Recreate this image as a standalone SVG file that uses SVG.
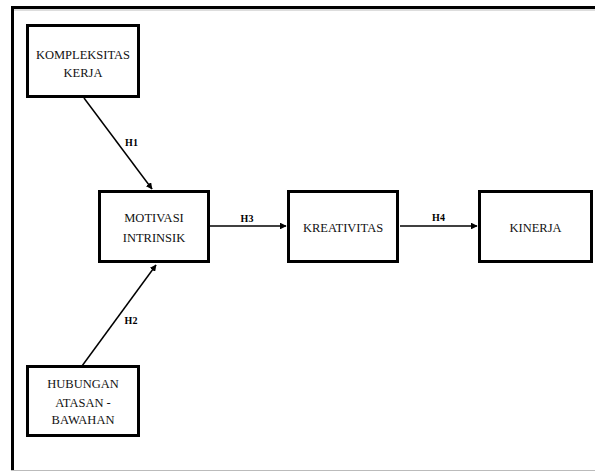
<svg xmlns="http://www.w3.org/2000/svg" width="595" height="472" viewBox="0 0 595 472">
<style>
.box{fill:#fff;stroke:#000;stroke-width:3}
.t{font-family:"Liberation Serif","Times New Roman",serif;font-size:12.5px;fill:#111;text-anchor:middle}
.lab{font-family:"Liberation Serif","Times New Roman",serif;font-size:10px;font-weight:bold;fill:#000;text-anchor:middle}
.c{stroke:#000;stroke-width:1.5;fill:none;marker-end:url(#ah)}
</style>
<defs>
<marker id="ah" viewBox="0 0 10 10" refX="9" refY="5" markerWidth="4.5" markerHeight="4.5" orient="auto" markerUnits="strokeWidth">
<path d="M0,0 L10,5 L0,10 z" fill="#000"/>
</marker>
</defs>
<rect width="595" height="472" fill="#fff"/>
<g id="frame">
<line x1="11" y1="10" x2="595" y2="10" stroke="#bbb" stroke-width="1"/>
<line x1="11" y1="7.5" x2="595" y2="7.5" stroke="#000" stroke-width="3"/>
<line x1="12.5" y1="6" x2="12.5" y2="471" stroke="#000" stroke-width="3"/>
<line x1="11" y1="470.5" x2="595" y2="470.5" stroke="#bbb" stroke-width="1"/>
</g>
<g id="connectors">
<line class="c" x1="84" y1="98" x2="152" y2="189"/>
<line class="c" x1="82" y1="366" x2="156" y2="265"/>
<line class="c" x1="210" y1="226" x2="286" y2="226"/>
<line class="c" x1="400" y1="226" x2="477" y2="226"/>
<text class="lab" x="131.5" y="146">H1</text>
<text class="lab" x="131" y="324">H2</text>
<text class="lab" x="247" y="221.5">H3</text>
<text class="lab" x="438.5" y="220.5">H4</text>
</g>
<g id="kompleksitas">
<rect class="box" x="27.5" y="25.5" width="111" height="71"/>
<text class="t" x="83" y="58.5">KOMPLEKSITAS</text>
<text class="t" x="83" y="77">KERJA</text>
</g>
<g id="motivasi">
<rect class="box" x="99.5" y="191.5" width="109" height="70"/>
<text class="t" x="154" y="222">MOTIVASI</text>
<text class="t" x="154" y="241.5">INTRINSIK</text>
</g>
<g id="kreativitas">
<rect class="box" x="288.5" y="191.5" width="109" height="70"/>
<text class="t" x="343" y="231.5">KREATIVITAS</text>
</g>
<g id="kinerja">
<rect class="box" x="479.5" y="191.5" width="112" height="70"/>
<text class="t" x="535.5" y="231.5">KINERJA</text>
</g>
<g id="hubungan">
<rect class="box" x="27.5" y="366.5" width="111" height="69"/>
<text class="t" x="83" y="388">HUBUNGAN</text>
<text class="t" x="83" y="406.5">ATASAN -</text>
<text class="t" x="83" y="423.5">BAWAHAN</text>
</g>
</svg>
